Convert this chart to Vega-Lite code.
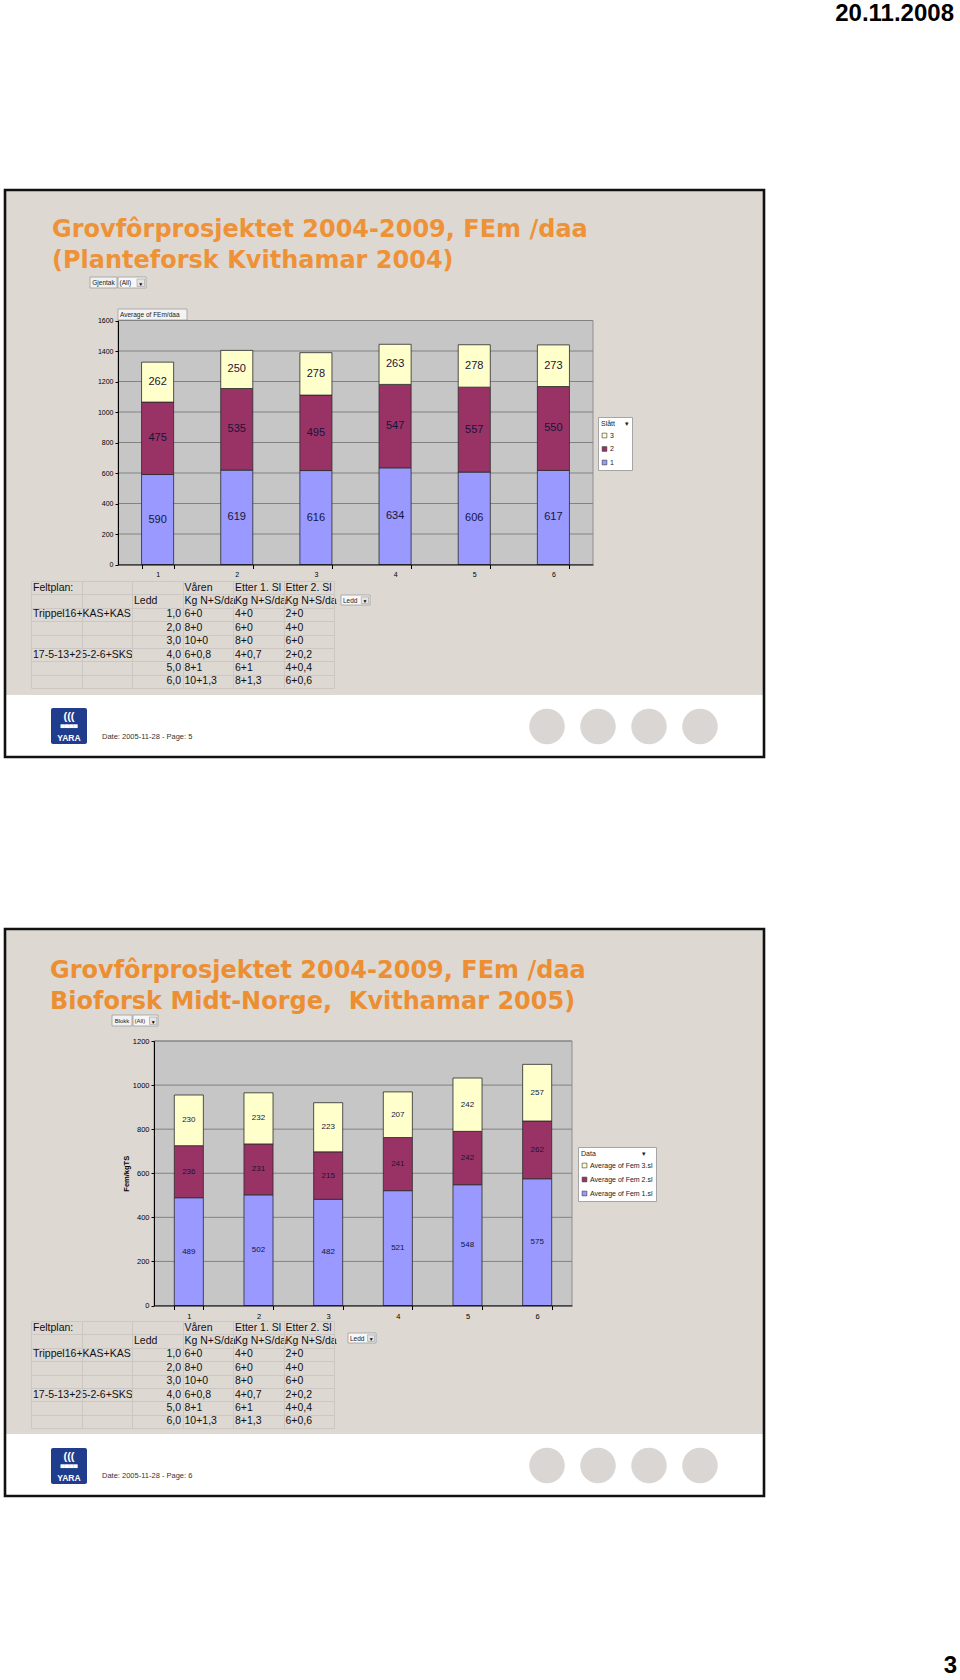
{
  "$schema": "https://vega.github.io/schema/vega-lite/v6.json",
  "width": 960,
  "height": 1680,
  "autosize": {"type": "none"},
  "padding": 0,
  "background": "#FFFFFF",
  "config": {
    "view": {"stroke": null},
    "font": "Liberation Sans",
    "text": {"font": "Liberation Sans"},
    "axis": {"labelFont": "Liberation Sans", "titleFont": "Liberation Sans"},
    "legend": {"labelFont": "Liberation Sans", "titleFont": "Liberation Sans"}
  },
  "datasets": {
    "fem2004": [
      {"ledd": "1", "slatt": "1", "fem": 590}, {"ledd": "1", "slatt": "2", "fem": 475}, {"ledd": "1", "slatt": "3", "fem": 262},
      {"ledd": "2", "slatt": "1", "fem": 619}, {"ledd": "2", "slatt": "2", "fem": 535}, {"ledd": "2", "slatt": "3", "fem": 250},
      {"ledd": "3", "slatt": "1", "fem": 616}, {"ledd": "3", "slatt": "2", "fem": 495}, {"ledd": "3", "slatt": "3", "fem": 278},
      {"ledd": "4", "slatt": "1", "fem": 634}, {"ledd": "4", "slatt": "2", "fem": 547}, {"ledd": "4", "slatt": "3", "fem": 263},
      {"ledd": "5", "slatt": "1", "fem": 606}, {"ledd": "5", "slatt": "2", "fem": 557}, {"ledd": "5", "slatt": "3", "fem": 278},
      {"ledd": "6", "slatt": "1", "fem": 617}, {"ledd": "6", "slatt": "2", "fem": 550}, {"ledd": "6", "slatt": "3", "fem": 273}
    ],
    "fem2005": [
      {"ledd": "1", "serie": "Average of Fem 1.sl", "fem": 489}, {"ledd": "1", "serie": "Average of Fem 2.sl", "fem": 236}, {"ledd": "1", "serie": "Average of Fem 3.sl", "fem": 230},
      {"ledd": "2", "serie": "Average of Fem 1.sl", "fem": 502}, {"ledd": "2", "serie": "Average of Fem 2.sl", "fem": 231}, {"ledd": "2", "serie": "Average of Fem 3.sl", "fem": 232},
      {"ledd": "3", "serie": "Average of Fem 1.sl", "fem": 482}, {"ledd": "3", "serie": "Average of Fem 2.sl", "fem": 215}, {"ledd": "3", "serie": "Average of Fem 3.sl", "fem": 223},
      {"ledd": "4", "serie": "Average of Fem 1.sl", "fem": 521}, {"ledd": "4", "serie": "Average of Fem 2.sl", "fem": 241}, {"ledd": "4", "serie": "Average of Fem 3.sl", "fem": 207},
      {"ledd": "5", "serie": "Average of Fem 1.sl", "fem": 548}, {"ledd": "5", "serie": "Average of Fem 2.sl", "fem": 242}, {"ledd": "5", "serie": "Average of Fem 3.sl", "fem": 242},
      {"ledd": "6", "serie": "Average of Fem 1.sl", "fem": 575}, {"ledd": "6", "serie": "Average of Fem 2.sl", "fem": 262}, {"ledd": "6", "serie": "Average of Fem 3.sl", "fem": 257}
    ],
    "feltplan": [
      {"r": 0, "c": "A", "h": "l", "t": "Feltplan:"},
      {"r": 0, "c": "D", "h": "l", "t": "Våren"},
      {"r": 0, "c": "E", "h": "l", "t": "Etter 1. Sl"},
      {"r": 0, "c": "F", "h": "l", "t": "Etter 2. Sl"},
      {"r": 1, "c": "C", "h": "l", "t": "Ledd"},
      {"r": 1, "c": "D", "h": "l", "t": "Kg N+S/da"},
      {"r": 1, "c": "E", "h": "l", "t": "Kg N+S/da"},
      {"r": 1, "c": "F", "h": "l", "t": "Kg N+S/da"},
      {"r": 2, "c": "A", "h": "l", "t": "Trippel16+KAS+KAS"},
      {"r": 2, "c": "C", "h": "r", "t": "1,0"},
      {"r": 2, "c": "D", "h": "l", "t": "6+0"},
      {"r": 2, "c": "E", "h": "l", "t": "4+0"},
      {"r": 2, "c": "F", "h": "l", "t": "2+0"},
      {"r": 3, "c": "C", "h": "r", "t": "2,0"},
      {"r": 3, "c": "D", "h": "l", "t": "8+0"},
      {"r": 3, "c": "E", "h": "l", "t": "6+0"},
      {"r": 3, "c": "F", "h": "l", "t": "4+0"},
      {"r": 4, "c": "C", "h": "r", "t": "3,0"},
      {"r": 4, "c": "D", "h": "l", "t": "10+0"},
      {"r": 4, "c": "E", "h": "l", "t": "8+0"},
      {"r": 4, "c": "F", "h": "l", "t": "6+0"},
      {"r": 5, "c": "A", "h": "l", "t": "17-5-13+25-2-6+SKS"},
      {"r": 5, "c": "C", "h": "r", "t": "4,0"},
      {"r": 5, "c": "D", "h": "l", "t": "6+0,8"},
      {"r": 5, "c": "E", "h": "l", "t": "4+0,7"},
      {"r": 5, "c": "F", "h": "l", "t": "2+0,2"},
      {"r": 6, "c": "C", "h": "r", "t": "5,0"},
      {"r": 6, "c": "D", "h": "l", "t": "8+1"},
      {"r": 6, "c": "E", "h": "l", "t": "6+1"},
      {"r": 6, "c": "F", "h": "l", "t": "4+0,4"},
      {"r": 7, "c": "C", "h": "r", "t": "6,0"},
      {"r": 7, "c": "D", "h": "l", "t": "10+1,3"},
      {"r": 7, "c": "E", "h": "l", "t": "8+1,3"},
      {"r": 7, "c": "F", "h": "l", "t": "6+0,6"}
    ]
  },
  "resolve": {
    "scale": {"x": "independent", "y": "independent", "color": "independent", "size": "independent"},
    "axis": {"x": "independent", "y": "independent"},
    "legend": {"color": "independent"}
  },
  "layer": [
    {
      "data": {"values": [{"lysbilde": 1}, {"lysbilde": 2}]},
      "mark": {"type": "rect", "fill": "#DED8D3"},
      "encoding": {
        "x": {"datum": 0, "type": "quantitative", "scale": {"domain": [0, 1], "range": [5, 764]}, "axis": null},
        "x2": {"datum": 1},
        "y": {"field": "lysbilde", "type": "ordinal", "scale": {"type": "band", "domain": [1, 2], "range": [190, 1434], "paddingInner": 0.31664, "paddingOuter": 0}, "axis": null}
      }
    },
    {
      "data": {"values": [{"lysbilde": 1}, {"lysbilde": 2}]},
      "mark": {"type": "rect", "fillOpacity": 0, "stroke": "#111111", "strokeWidth": 2.6},
      "encoding": {
        "x": {"datum": 0, "type": "quantitative", "scale": {"domain": [0, 1], "range": [5, 764]}, "axis": null},
        "x2": {"datum": 1},
        "y": {"field": "lysbilde", "type": "ordinal", "scale": {"type": "band", "domain": [1, 2], "range": [190, 1496], "paddingInner": 0.23277, "paddingOuter": 0}, "axis": null}
      }
    },
    {
      "data": {"values": [{"item": "dato", "t": "20.11.2008"}, {"item": "side", "t": "3"}]},
      "mark": {"type": "text", "align": "right", "baseline": "alphabetic", "fontWeight": "bold", "fontSize": 24, "color": "#000000"},
      "encoding": {
        "x": {"field": "item", "type": "nominal", "scale": {"type": "point", "domain": ["dato", "side"], "range": [954, 957], "padding": 0}, "axis": null},
        "y": {"field": "item", "type": "nominal", "scale": {"type": "point", "domain": ["dato", "side"], "range": [21, 1673], "padding": 0}, "axis": null},
        "text": {"field": "t"}
      }
    },
    {
      "data": {"values": [{"linje": 1, "t": "Grovfôrprosjektet 2004-2009, FEm /daa"}, {"linje": 2, "t": "(Planteforsk Kvithamar 2004)"}]},
      "mark": {"type": "text", "align": "left", "baseline": "alphabetic", "font": "DejaVu Sans", "fontWeight": "bold", "fontSize": 24, "color": "#EE9238"},
      "encoding": {
        "x": {"datum": 0, "type": "quantitative", "scale": {"domain": [0, 1], "range": [52, 587]}, "axis": null},
        "y": {"field": "linje", "type": "ordinal", "scale": {"type": "point", "domain": [1, 2], "range": [237, 268], "padding": 0}, "axis": null},
        "text": {"field": "t"}
      }
    },
    {
      "data": {"values": [{"linje": 1, "t": "Grovfôrprosjektet 2004-2009, FEm /daa"}, {"linje": 2, "t": "Bioforsk Midt-Norge,\u00a0\u00a0Kvithamar 2005)"}]},
      "mark": {"type": "text", "align": "left", "baseline": "alphabetic", "font": "DejaVu Sans", "fontWeight": "bold", "fontSize": 24, "color": "#EC8F33"},
      "encoding": {
        "x": {"datum": 0, "type": "quantitative", "scale": {"domain": [0, 1], "range": [50, 587]}, "axis": null},
        "y": {"field": "linje", "type": "ordinal", "scale": {"type": "point", "domain": [1, 2], "range": [978, 1009], "padding": 0}, "axis": null},
        "text": {"field": "t"}
      }
    },
    {
      "data": {"values": [{"t": "Gjentak"}]},
      "layer": [
        {"mark": {"type": "rect", "fill": "#F1F1F1", "stroke": "#9C9C9C", "strokeWidth": 0.8},
         "encoding": {"x": {"datum": 0, "type": "quantitative", "scale": {"domain": [0, 1], "range": [90, 117]}, "axis": null}, "x2": {"datum": 1},
                      "y": {"datum": 0, "type": "quantitative", "scale": {"domain": [0, 1], "range": [277, 288]}, "axis": null}, "y2": {"datum": 1}}},
        {"mark": {"type": "text", "align": "center", "baseline": "middle", "fontSize": 6.5, "color": "#222222"},
         "encoding": {"x": {"datum": 0.5, "type": "quantitative"}, "y": {"datum": 0.55, "type": "quantitative"}, "text": {"field": "t"}}}
      ]
    },
    {
      "data": {"values": [{"t": "(All)", "pil": "▼"}]},
      "layer": [
        {"mark": {"type": "rect", "fill": "#F7F7F7", "stroke": "#9C9C9C", "strokeWidth": 0.8},
         "encoding": {"x": {"datum": 0, "type": "quantitative", "scale": {"domain": [0, 1], "range": [118, 146]}, "axis": null}, "x2": {"datum": 1},
                      "y": {"datum": 0, "type": "quantitative", "scale": {"domain": [0, 1], "range": [277, 288]}, "axis": null}, "y2": {"datum": 1}}},
        {"mark": {"type": "rect", "fill": "#E4E4E4", "stroke": "#888888", "strokeWidth": 0.5},
         "encoding": {"x": {"datum": 0.68, "type": "quantitative"}, "x2": {"datum": 0.95}, "y": {"datum": 0.18, "type": "quantitative"}, "y2": {"datum": 0.86}}},
        {"mark": {"type": "text", "align": "left", "baseline": "middle", "fontSize": 6.5, "color": "#222222", "dx": 1.5},
         "encoding": {"x": {"datum": 0, "type": "quantitative"}, "y": {"datum": 0.55, "type": "quantitative"}, "text": {"field": "t"}}},
        {"mark": {"type": "text", "align": "center", "baseline": "middle", "fontSize": 5, "color": "#000000"},
         "encoding": {"x": {"datum": 0.815, "type": "quantitative"}, "y": {"datum": 0.6, "type": "quantitative"}, "text": {"field": "pil"}}}
      ]
    },
    {
      "data": {"values": [{"t": "Average of FEm/daa"}]},
      "layer": [
        {"mark": {"type": "rect", "fill": "#F3F3F3", "stroke": "#9C9C9C", "strokeWidth": 0.8},
         "encoding": {"x": {"datum": 0, "type": "quantitative", "scale": {"domain": [0, 1], "range": [118, 187]}, "axis": null}, "x2": {"datum": 1},
                      "y": {"datum": 0, "type": "quantitative", "scale": {"domain": [0, 1], "range": [309, 320]}, "axis": null}, "y2": {"datum": 1}}},
        {"mark": {"type": "text", "align": "left", "baseline": "middle", "fontSize": 6.5, "color": "#222222", "dx": 2},
         "encoding": {"x": {"datum": 0, "type": "quantitative"}, "y": {"datum": 0.55, "type": "quantitative"}, "text": {"field": "t"}}}
      ]
    },
    {
      "data": {"values": [{"t": "Ledd", "pil": "▼"}]},
      "layer": [
        {"mark": {"type": "rect", "fill": "#F7F7F7", "stroke": "#9C9C9C", "strokeWidth": 0.8},
         "encoding": {"x": {"datum": 0, "type": "quantitative", "scale": {"domain": [0, 1], "range": [341, 370]}, "axis": null}, "x2": {"datum": 1},
                      "y": {"datum": 0, "type": "quantitative", "scale": {"domain": [0, 1], "range": [595, 605]}, "axis": null}, "y2": {"datum": 1}}},
        {"mark": {"type": "rect", "fill": "#E4E4E4", "stroke": "#888888", "strokeWidth": 0.5},
         "encoding": {"x": {"datum": 0.7, "type": "quantitative"}, "x2": {"datum": 0.95}, "y": {"datum": 0.18, "type": "quantitative"}, "y2": {"datum": 0.86}}},
        {"mark": {"type": "text", "align": "left", "baseline": "middle", "fontSize": 6.5, "color": "#222222", "dx": 2},
         "encoding": {"x": {"datum": 0, "type": "quantitative"}, "y": {"datum": 0.55, "type": "quantitative"}, "text": {"field": "t"}}},
        {"mark": {"type": "text", "align": "center", "baseline": "middle", "fontSize": 5, "color": "#000000"},
         "encoding": {"x": {"datum": 0.825, "type": "quantitative"}, "y": {"datum": 0.6, "type": "quantitative"}, "text": {"field": "pil"}}}
      ]
    },
    {
      "data": {"values": [{"t": "Blokk"}]},
      "layer": [
        {"mark": {"type": "rect", "fill": "#F1F1F1", "stroke": "#9C9C9C", "strokeWidth": 0.8},
         "encoding": {"x": {"datum": 0, "type": "quantitative", "scale": {"domain": [0, 1], "range": [112, 132]}, "axis": null}, "x2": {"datum": 1},
                      "y": {"datum": 0, "type": "quantitative", "scale": {"domain": [0, 1], "range": [1015, 1026]}, "axis": null}, "y2": {"datum": 1}}},
        {"mark": {"type": "text", "align": "center", "baseline": "middle", "fontSize": 6, "color": "#222222"},
         "encoding": {"x": {"datum": 0.5, "type": "quantitative"}, "y": {"datum": 0.55, "type": "quantitative"}, "text": {"field": "t"}}}
      ]
    },
    {
      "data": {"values": [{"t": "(All)", "pil": "▼"}]},
      "layer": [
        {"mark": {"type": "rect", "fill": "#F7F7F7", "stroke": "#9C9C9C", "strokeWidth": 0.8},
         "encoding": {"x": {"datum": 0, "type": "quantitative", "scale": {"domain": [0, 1], "range": [133, 158]}, "axis": null}, "x2": {"datum": 1},
                      "y": {"datum": 0, "type": "quantitative", "scale": {"domain": [0, 1], "range": [1015, 1026]}, "axis": null}, "y2": {"datum": 1}}},
        {"mark": {"type": "rect", "fill": "#E4E4E4", "stroke": "#888888", "strokeWidth": 0.5},
         "encoding": {"x": {"datum": 0.66, "type": "quantitative"}, "x2": {"datum": 0.95}, "y": {"datum": 0.18, "type": "quantitative"}, "y2": {"datum": 0.86}}},
        {"mark": {"type": "text", "align": "left", "baseline": "middle", "fontSize": 6, "color": "#222222", "dx": 1.5},
         "encoding": {"x": {"datum": 0, "type": "quantitative"}, "y": {"datum": 0.55, "type": "quantitative"}, "text": {"field": "t"}}},
        {"mark": {"type": "text", "align": "center", "baseline": "middle", "fontSize": 5, "color": "#000000"},
         "encoding": {"x": {"datum": 0.805, "type": "quantitative"}, "y": {"datum": 0.6, "type": "quantitative"}, "text": {"field": "pil"}}}
      ]
    },
    {
      "data": {"values": [{"t": "Ledd", "pil": "▼"}]},
      "layer": [
        {"mark": {"type": "rect", "fill": "#F7F7F7", "stroke": "#9C9C9C", "strokeWidth": 0.8},
         "encoding": {"x": {"datum": 0, "type": "quantitative", "scale": {"domain": [0, 1], "range": [348, 376]}, "axis": null}, "x2": {"datum": 1},
                      "y": {"datum": 0, "type": "quantitative", "scale": {"domain": [0, 1], "range": [1333, 1343]}, "axis": null}, "y2": {"datum": 1}}},
        {"mark": {"type": "rect", "fill": "#E4E4E4", "stroke": "#888888", "strokeWidth": 0.5},
         "encoding": {"x": {"datum": 0.7, "type": "quantitative"}, "x2": {"datum": 0.95}, "y": {"datum": 0.18, "type": "quantitative"}, "y2": {"datum": 0.86}}},
        {"mark": {"type": "text", "align": "left", "baseline": "middle", "fontSize": 6.5, "color": "#222222", "dx": 2},
         "encoding": {"x": {"datum": 0, "type": "quantitative"}, "y": {"datum": 0.55, "type": "quantitative"}, "text": {"field": "t"}}},
        {"mark": {"type": "text", "align": "center", "baseline": "middle", "fontSize": 5, "color": "#000000"},
         "encoding": {"x": {"datum": 0.825, "type": "quantitative"}, "y": {"datum": 0.6, "type": "quantitative"}, "text": {"field": "pil"}}}
      ]
    },
    {
      "layer": [
        {"data": {"values": [{"omr": "plot"}]},
         "mark": {"type": "rect", "fill": "#C6C6C6", "stroke": "#8E8E8E", "strokeWidth": 1},
         "encoding": {"x": {"datum": 0.5, "type": "quantitative", "scale": {"domain": [0.5, 6.5], "range": [118, 593], "nice": false, "zero": false}, "axis": null}, "x2": {"datum": 6.5},
                      "y": {"datum": 0, "type": "quantitative", "scale": {"domain": [0, 1600], "range": [564.5, 320.5], "nice": false, "zero": false}, "axis": null}, "y2": {"datum": 1600}}},
        {"data": {"values": [{"v": 200}, {"v": 400}, {"v": 600}, {"v": 800}, {"v": 1000}, {"v": 1200}, {"v": 1400}, {"v": 1600}]},
         "mark": {"type": "rule", "color": "#828282", "strokeWidth": 1},
         "encoding": {"x": {"datum": 0.5, "type": "quantitative"}, "x2": {"datum": 6.5}, "y": {"field": "v", "type": "quantitative"}}}
      ]
    },
    {
      "data": {"name": "fem2004"},
      "layer": [
        {"mark": {"type": "bar", "stroke": "#2A2A2A", "strokeWidth": 0.8},
         "encoding": {
           "x": {"field": "ledd", "type": "ordinal",
                 "scale": {"type": "band", "domain": ["1", "2", "3", "4", "5", "6"], "range": [118, 593], "paddingInner": 0.595, "paddingOuter": 0.2975},
                 "axis": {"orient": "bottom", "offset": -1115.5, "title": null, "labelAngle": 0, "labelFontSize": 7, "labelPadding": 2, "tickSize": 4, "tickBand": "extent", "domainColor": "#000000", "tickColor": "#000000", "labelColor": "#000000", "grid": false, "zindex": 1}},
           "y": {"field": "fem", "type": "quantitative", "stack": "zero",
                 "scale": {"domain": [0, 1600], "range": [564.5, 320.5], "nice": false, "zero": false},
                 "axis": {"orient": "left", "offset": -118, "title": null, "format": "d", "values": [0, 200, 400, 600, 800, 1000, 1200, 1400, 1600], "labelFontSize": 7, "labelPadding": 2, "tickSize": 3, "domainColor": "#000000", "tickColor": "#000000", "labelColor": "#000000", "grid": false, "zindex": 1}},
           "color": {"field": "slatt", "type": "nominal",
                     "scale": {"domain": ["3", "2", "1"], "range": ["#FFFFCC", "#993366", "#9999FF"]},
                     "legend": {"orient": "none", "legendX": 598, "legendY": 417, "title": "Slått\u00a0\u00a0\u00a0\u00a0\u00a0▾", "titleFontSize": 7, "titleFontWeight": "normal", "titleColor": "#222222", "titlePadding": 5, "labelFontSize": 7, "labelColor": "#222222", "labelOffset": 2, "symbolType": "square", "symbolSize": 22, "symbolStrokeColor": "#333333", "symbolStrokeWidth": 0.6, "fillColor": "#FFFFFF", "strokeColor": "#A5A5A5", "padding": 3, "rowPadding": 4.5}},
           "order": {"field": "slatt", "type": "ordinal", "sort": "ascending"}
         }},
        {"mark": {"type": "text", "fontSize": 11, "color": "#15153A", "baseline": "middle"},
         "encoding": {
           "x": {"field": "ledd", "type": "ordinal"},
           "y": {"field": "fem", "type": "quantitative", "stack": "zero", "bandPosition": 0.5},
           "detail": {"field": "slatt"},
           "order": {"field": "slatt", "type": "ordinal", "sort": "ascending"},
           "text": {"field": "fem", "type": "quantitative"}
         }}
      ]
    },
    {
      "layer": [
        {"data": {"values": [{"omr": "plot"}]},
         "mark": {"type": "rect", "fill": "#C6C6C6", "stroke": "#8E8E8E", "strokeWidth": 1},
         "encoding": {"x": {"datum": 0.5, "type": "quantitative", "scale": {"domain": [0.5, 6.5], "range": [154, 572], "nice": false, "zero": false}, "axis": null}, "x2": {"datum": 6.5},
                      "y": {"datum": 0, "type": "quantitative", "scale": {"domain": [0, 1200], "range": [1305.5, 1041], "nice": false, "zero": false}, "axis": null}, "y2": {"datum": 1200}}},
        {"data": {"values": [{"v": 200}, {"v": 400}, {"v": 600}, {"v": 800}, {"v": 1000}, {"v": 1200}]},
         "mark": {"type": "rule", "color": "#828282", "strokeWidth": 1},
         "encoding": {"x": {"datum": 0.5, "type": "quantitative"}, "x2": {"datum": 6.5}, "y": {"field": "v", "type": "quantitative"}}}
      ]
    },
    {
      "data": {"name": "fem2005"},
      "layer": [
        {"mark": {"type": "bar", "stroke": "#2A2A2A", "strokeWidth": 0.8},
         "encoding": {
           "x": {"field": "ledd", "type": "ordinal",
                 "scale": {"type": "band", "domain": ["1", "2", "3", "4", "5", "6"], "range": [154, 572], "paddingInner": 0.583, "paddingOuter": 0.2915},
                 "axis": {"orient": "bottom", "offset": -374.5, "title": null, "labelAngle": 0, "labelFontSize": 7.5, "labelPadding": 3, "tickSize": 4, "tickBand": "extent", "domainColor": "#000000", "tickColor": "#000000", "labelColor": "#000000", "grid": false, "zindex": 1}},
           "y": {"field": "fem", "type": "quantitative", "stack": "zero",
                 "scale": {"domain": [0, 1200], "range": [1305.5, 1041], "nice": false, "zero": false},
                 "axis": {"orient": "left", "offset": -154, "title": "Fem/kgTS", "titleFontSize": 7.5, "titleFontWeight": "bold", "titleColor": "#000000", "titleX": -28, "titleBaseline": "middle", "format": "d", "values": [0, 200, 400, 600, 800, 1000, 1200], "labelFontSize": 7.5, "labelPadding": 2, "tickSize": 3, "domainColor": "#000000", "tickColor": "#000000", "labelColor": "#000000", "grid": false, "zindex": 1}},
           "color": {"field": "serie", "type": "nominal",
                     "scale": {"domain": ["Average of Fem 3.sl", "Average of Fem 2.sl", "Average of Fem 1.sl"], "range": ["#FFFFCC", "#993366", "#9999FF"]},
                     "legend": {"orient": "none", "legendX": 578, "legendY": 1147, "title": "Data\u00a0\u00a0\u00a0\u00a0\u00a0\u00a0\u00a0\u00a0\u00a0\u00a0\u00a0\u00a0\u00a0\u00a0\u00a0\u00a0\u00a0\u00a0\u00a0\u00a0\u00a0\u00a0\u00a0\u00a0▾", "titleFontSize": 7, "titleFontWeight": "normal", "titleColor": "#222222", "titlePadding": 5, "labelFontSize": 7, "labelColor": "#222222", "labelOffset": 2, "symbolType": "square", "symbolSize": 22, "symbolStrokeColor": "#333333", "symbolStrokeWidth": 0.6, "fillColor": "#FFFFFF", "strokeColor": "#A5A5A5", "padding": 3, "rowPadding": 5}},
           "order": {"field": "serie", "type": "ordinal", "sort": "ascending"}
         }},
        {"mark": {"type": "text", "fontSize": 8, "color": "#15153A", "baseline": "middle"},
         "encoding": {
           "x": {"field": "ledd", "type": "ordinal"},
           "y": {"field": "fem", "type": "quantitative", "stack": "zero", "bandPosition": 0.5},
           "detail": {"field": "serie"},
           "order": {"field": "serie", "type": "ordinal", "sort": "ascending"},
           "text": {"field": "fem", "type": "quantitative"}
         }}
      ]
    },
    {
      "data": {"name": "feltplan"},
      "layer": [
        {"transform": [{"filter": "datum.h == 'l'"}],
         "mark": {"type": "text", "align": "left", "baseline": "middle", "dx": 2, "fontSize": 10.5, "color": "#111111"},
         "encoding": {
           "x": {"field": "c", "type": "nominal", "bandPosition": 0,
                 "scale": {"type": "band", "domain": ["A", "B", "C", "D", "E", "F"], "range": [31, 334], "paddingInner": 0, "paddingOuter": 0},
                 "axis": {"orient": "top", "grid": true, "gridColor": "#CCC7C3", "gridWidth": 1, "domain": false, "ticks": false, "labels": false, "tickBand": "extent", "title": null, "zindex": 1}},
           "y": {"field": "r", "type": "ordinal",
                 "scale": {"type": "band", "domain": [0, 1, 2, 3, 4, 5, 6, 7], "range": [581, 688], "paddingInner": 0, "paddingOuter": 0},
                 "axis": {"orient": "left", "grid": true, "gridColor": "#CCC7C3", "gridWidth": 1, "domain": false, "ticks": false, "labels": false, "tickBand": "extent", "title": null, "zindex": 1}},
           "text": {"field": "t"}
         }},
        {"transform": [{"filter": "datum.h == 'r'"}],
         "mark": {"type": "text", "align": "right", "baseline": "middle", "dx": -1.5, "fontSize": 10.5, "color": "#111111"},
         "encoding": {
           "x": {"field": "c", "type": "nominal", "bandPosition": 1},
           "y": {"field": "r", "type": "ordinal"},
           "text": {"field": "t"}
         }}
      ]
    },
    {
      "data": {"name": "feltplan"},
      "layer": [
        {"transform": [{"filter": "datum.h == 'l'"}],
         "mark": {"type": "text", "align": "left", "baseline": "middle", "dx": 2, "fontSize": 10.5, "color": "#111111"},
         "encoding": {
           "x": {"field": "c", "type": "nominal", "bandPosition": 0,
                 "scale": {"type": "band", "domain": ["A", "B", "C", "D", "E", "F"], "range": [31, 334], "paddingInner": 0, "paddingOuter": 0},
                 "axis": {"orient": "top", "grid": true, "gridColor": "#CCC7C3", "gridWidth": 1, "domain": false, "ticks": false, "labels": false, "tickBand": "extent", "title": null, "zindex": 1}},
           "y": {"field": "r", "type": "ordinal",
                 "scale": {"type": "band", "domain": [0, 1, 2, 3, 4, 5, 6, 7], "range": [1321, 1428], "paddingInner": 0, "paddingOuter": 0},
                 "axis": {"orient": "left", "grid": true, "gridColor": "#CCC7C3", "gridWidth": 1, "domain": false, "ticks": false, "labels": false, "tickBand": "extent", "title": null, "zindex": 1}},
           "text": {"field": "t"}
         }},
        {"transform": [{"filter": "datum.h == 'r'"}],
         "mark": {"type": "text", "align": "right", "baseline": "middle", "dx": -1.5, "fontSize": 10.5, "color": "#111111"},
         "encoding": {
           "x": {"field": "c", "type": "nominal", "bandPosition": 1},
           "y": {"field": "r", "type": "ordinal"},
           "text": {"field": "t"}
         }}
      ]
    },
    {
      "data": {"values": [{"lysbilde": 1}, {"lysbilde": 2}]},
      "mark": {"type": "rect", "fill": "#1F3D8C", "cornerRadius": 2},
      "encoding": {
        "x": {"datum": 0, "type": "quantitative", "scale": {"domain": [0, 1], "range": [51, 87]}, "axis": null},
        "x2": {"datum": 1},
        "y": {"field": "lysbilde", "type": "ordinal", "scale": {"type": "band", "domain": [1, 2], "range": [708, 1484], "paddingInner": 0.95135, "paddingOuter": 0}, "axis": null}
      }
    },
    {
      "data": {"values": [{"lysbilde": 1, "t": "((("}, {"lysbilde": 2, "t": "((("}]},
      "mark": {"type": "text", "align": "center", "baseline": "middle", "fontSize": 11, "fontWeight": "bold", "color": "#FFFFFF"},
      "encoding": {
        "x": {"datum": 0.5, "type": "quantitative", "scale": {"domain": [0, 1], "range": [51, 87]}, "axis": null},
        "y": {"field": "lysbilde", "type": "ordinal", "scale": {"type": "point", "domain": [1, 2], "range": [717, 1457], "padding": 0}, "axis": null},
        "text": {"field": "t"}
      }
    },
    {
      "data": {"values": [{"lysbilde": 1, "t": "▀▀▀▀"}, {"lysbilde": 2, "t": "▀▀▀▀"}]},
      "mark": {"type": "text", "align": "center", "baseline": "middle", "fontSize": 6, "color": "#FFFFFF"},
      "encoding": {
        "x": {"datum": 0.5, "type": "quantitative", "scale": {"domain": [0, 1], "range": [51, 87]}, "axis": null},
        "y": {"field": "lysbilde", "type": "ordinal", "scale": {"type": "point", "domain": [1, 2], "range": [728, 1468], "padding": 0}, "axis": null},
        "text": {"field": "t"}
      }
    },
    {
      "data": {"values": [{"lysbilde": 1, "t": "YARA"}, {"lysbilde": 2, "t": "YARA"}]},
      "mark": {"type": "text", "align": "center", "baseline": "middle", "fontSize": 8.5, "fontWeight": "bold", "color": "#FFFFFF"},
      "encoding": {
        "x": {"datum": 0.5, "type": "quantitative", "scale": {"domain": [0, 1], "range": [51, 87]}, "axis": null},
        "y": {"field": "lysbilde", "type": "ordinal", "scale": {"type": "point", "domain": [1, 2], "range": [738, 1478], "padding": 0}, "axis": null},
        "text": {"field": "t"}
      }
    },
    {
      "data": {"values": [{"lysbilde": 1, "t": "Date: 2005-11-28 - Page: 5"}, {"lysbilde": 2, "t": "Date: 2005-11-28 - Page: 6"}]},
      "mark": {"type": "text", "align": "left", "baseline": "middle", "font": "Liberation Sans", "fontSize": 7.5, "color": "#333333"},
      "encoding": {
        "x": {"datum": 0, "type": "quantitative", "scale": {"domain": [0, 1], "range": [102, 200]}, "axis": null},
        "y": {"field": "lysbilde", "type": "ordinal", "scale": {"type": "point", "domain": [1, 2], "range": [736.5, 1475.5], "padding": 0}, "axis": null},
        "text": {"field": "t"}
      }
    },
    {
      "data": {"values": [
        {"lysbilde": 1, "k": 1}, {"lysbilde": 1, "k": 2}, {"lysbilde": 1, "k": 3}, {"lysbilde": 1, "k": 4},
        {"lysbilde": 2, "k": 1}, {"lysbilde": 2, "k": 2}, {"lysbilde": 2, "k": 3}, {"lysbilde": 2, "k": 4}
      ]},
      "mark": {"type": "point", "shape": "circle", "filled": true, "color": "#DAD6D3", "opacity": 1, "size": 1260},
      "encoding": {
        "x": {"field": "k", "type": "ordinal", "scale": {"type": "point", "domain": [1, 2, 3, 4], "range": [547, 700], "padding": 0}, "axis": null},
        "y": {"field": "lysbilde", "type": "ordinal", "scale": {"type": "point", "domain": [1, 2], "range": [726.5, 1465.5], "padding": 0}, "axis": null}
      }
    }
  ]
}
